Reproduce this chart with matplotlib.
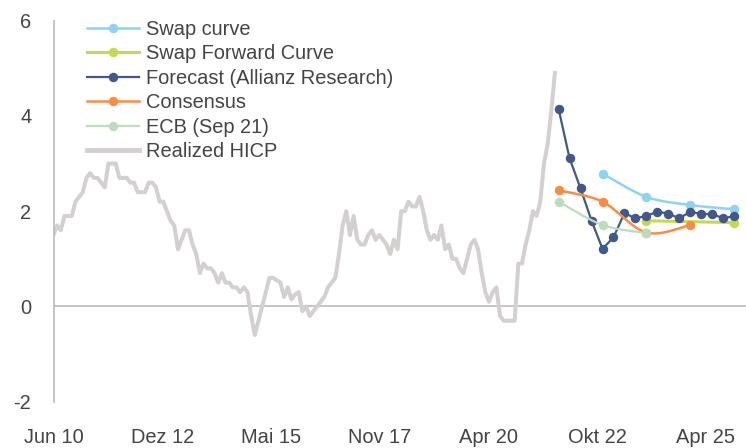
import numpy as np
import matplotlib
matplotlib.use("Agg")
import matplotlib.pyplot as plt
from matplotlib.path import Path
from matplotlib.patches import PathPatch
from matplotlib.lines import Line2D

# --- DATA ---
# realized HICP, monthly from Jun 2010 to Nov 2021 (% y/y)
hicp = [
    1.5, 1.7, 1.6, 1.9, 1.9, 1.9, 2.2,                                # 2010 Jun-Dec
    2.3, 2.4, 2.7, 2.8, 2.7, 2.7, 2.6, 2.5, 3.0, 3.0, 3.0, 2.7,       # 2011
    2.7, 2.7, 2.6, 2.6, 2.4, 2.4, 2.4, 2.6, 2.6, 2.5, 2.2, 2.2,       # 2012
    2.0, 1.8, 1.7, 1.2, 1.4, 1.6, 1.6, 1.3, 1.1, 0.7, 0.9, 0.8,       # 2013
    0.8, 0.7, 0.5, 0.7, 0.5, 0.5, 0.4, 0.4, 0.3, 0.4, 0.3, -0.2,      # 2014
    -0.6, -0.3, 0.0, 0.3, 0.6, 0.6, 0.55, 0.5, 0.2, 0.4, 0.15, 0.25,  # 2015
    0.3, -0.1, 0.0, -0.2, -0.1, 0.0, 0.1, 0.2, 0.4, 0.5, 0.6, 1.1,    # 2016
    1.7, 2.0, 1.5, 1.9, 1.4, 1.3, 1.3, 1.5, 1.6, 1.4, 1.5, 1.4,       # 2017
    1.3, 1.1, 1.4, 1.2, 2.0, 2.0, 2.2, 2.1, 2.1, 2.3, 2.0, 1.6,       # 2018
    1.4, 1.5, 1.4, 1.7, 1.2, 1.3, 1.0, 1.0, 0.8, 0.7, 1.0, 1.3,       # 2019
    1.4, 1.2, 0.7, 0.3, 0.1, 0.3, 0.4, -0.2, -0.3, -0.3, -0.3, -0.3,  # 2020
    0.9, 0.9, 1.3, 1.6, 2.0, 1.9, 2.2, 3.0, 3.4, 4.1, 4.9,            # 2021 Jan-Nov
]

forecast_dates = ["2021-12", "2022-03", "2022-06", "2022-09", "2022-12",
                  "2023-03", "2023-06", "2023-09", "2023-12", "2024-03",
                  "2024-06", "2024-09", "2024-12", "2025-03", "2025-06",
                  "2025-09", "2025-12"]
forecast = [4.15, 3.11, 2.48, 1.80, 1.21, 1.45, 1.96, 1.85, 1.90,
            1.99, 1.95, 1.85, 1.99, 1.94, 1.94, 1.85, 1.90]

swap_dates = ["2022-12", "2023-12", "2024-12", "2025-12"]
swap = [2.79, 2.30, 2.13, 2.04]

swap_fwd_dates = ["2023-12", "2025-12"]
swap_fwd = [1.80, 1.76]

consensus_dates = ["2021-12", "2022-12", "2023-12", "2024-12"]
consensus = [2.44, 2.20, 1.55, 1.71]

ecb_dates = ["2021-12", "2022-12", "2023-12"]
ecb = [2.20, 1.71, 1.54]

tick_pos = [0, 29.7, 59.4, 89.1, 118.8, 148.5, 178.2]
tick_labels = ["Jun 10", "Dez 12", "Mai 15", "Nov 17", "Apr 20", "Okt 22", "Apr 25"]

# --- COLORS ---
C_SWAP = "#8DD3F4"
C_FWD = "#C6D94C"
C_FC = "#40598A"
C_CONS = "#FA8C44"
C_ECB = "#BCDDB9"
C_HICP = "#D5D0D0"
C_AXIS = "#BFBFBF"
C_TEXT = "#444444"


def month_idx(s):
    # months since Jun 2010
    y, m = map(int, s.split("-"))
    return (y - 2010) * 12 + m - 6


def smooth_path(x, y):
    # excel-like smoothed line as cubic bezier
    pts = np.column_stack([x, y]).astype(float)
    p = np.vstack([pts[0], pts, pts[-1]])
    verts = [pts[0]]
    codes = [Path.MOVETO]
    for i in range(1, len(p) - 2):
        p0, p1, p2, p3 = p[i - 1], p[i], p[i + 1], p[i + 2]
        verts += [p1 + (p2 - p0) / 6, p2 - (p3 - p1) / 6, p2]
        codes += [Path.CURVE4] * 3
    return Path(verts, codes)


plt.rcParams["font.family"] = ["Liberation Sans", "DejaVu Sans"]

fig = plt.figure(figsize=(7.46, 4.48), dpi=100)
ax = fig.add_axes([53.5 / 746, 1 - 401.7 / 448, (746 - 53.5) / 746, (401.7 - 20.7) / 448])

ax.set_xlim(0, (746 - 53.5) / 3.66)
ax.set_ylim(-2, 6)

for s in ["top", "right", "bottom"]:
    ax.spines[s].set_visible(False)
ax.spines["left"].set_color(C_AXIS)
ax.spines["left"].set_linewidth(1.3)
ax.axhline(0, color=C_AXIS, lw=1.3, zorder=1)

ax.set_yticks([-2, 0, 2, 4, 6])
ax.set_yticklabels(["-2", "0", "2", "4", "6"])
ax.set_xticks(tick_pos)
ax.set_xticklabels(tick_labels)
ax.tick_params(axis="y", length=0, pad=16, labelsize=14.4, labelcolor=C_TEXT)
ax.tick_params(axis="x", length=0, pad=19, labelsize=14.4, labelcolor=C_TEXT)

# realized
ax.plot(np.arange(len(hicp)), hicp, color=C_HICP, lw=2.9, zorder=2,
        solid_joinstyle="round")

MS = 5.8

def smooth_series(dates, vals, color, lw, z):
    x = [month_idx(d) for d in dates]
    ax.add_patch(PathPatch(smooth_path(x, vals), fill=False, edgecolor=color,
                           lw=lw, zorder=z))
    ax.plot(x, vals, ls="none", marker="o", ms=MS, color=color, zorder=z)

smooth_series(swap_dates, swap, C_SWAP, 1.8, 3)
ax.plot([month_idx(d) for d in swap_fwd_dates], swap_fwd, color=C_FWD, lw=2.2,
        marker="o", ms=MS, zorder=4)
ax.plot([month_idx(d) for d in forecast_dates], forecast, color=C_FC, lw=1.6,
        marker="o", ms=MS, zorder=5)
smooth_series(consensus_dates, consensus, C_CONS, 1.8, 6)
smooth_series(ecb_dates, ecb, C_ECB, 1.6, 7)

handles = [
    Line2D([], [], color=C_SWAP, lw=1.8, marker="o", ms=MS),
    Line2D([], [], color=C_FWD, lw=2.2, marker="o", ms=MS),
    Line2D([], [], color=C_FC, lw=1.6, marker="o", ms=MS),
    Line2D([], [], color=C_CONS, lw=1.8, marker="o", ms=MS),
    Line2D([], [], color=C_ECB, lw=1.6, marker="o", ms=MS),
    Line2D([], [], color=C_HICP, lw=3.5),
]
labels = ["Swap curve", "Swap Forward Curve", "Forecast (Allianz Research)",
          "Consensus", "ECB (Sep 21)", "Realized HICP"]
leg = fig.legend(handles, labels, loc="upper left",
                 bbox_to_anchor=(87 / 746, 1 - 20 / 448),
                 frameon=False, fontsize=14.4, borderpad=0, borderaxespad=0,
                 handlelength=2.6, handletextpad=0.35, labelspacing=0.27)
for t in leg.get_texts():
    t.set_color(C_TEXT)

fig.savefig("out.png", dpi=100)
